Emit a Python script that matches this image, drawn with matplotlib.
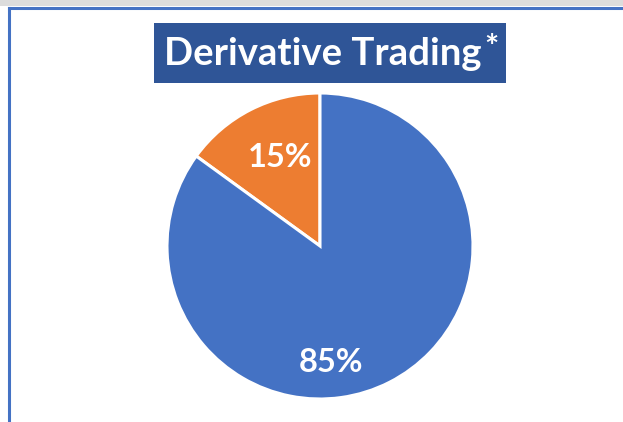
import matplotlib.pyplot as plt
from matplotlib.patches import Rectangle
from matplotlib.lines import Line2D

labels = ['Other', 'Derivative']
shares = [15, 85]
colors = ['#ED7D31', '#4472C4']
title = 'Derivative Trading'

W, H = 623, 422
fig = plt.figure(figsize=(W / 100, H / 100), dpi=100)

# window-like frame: gray strip at the top, blue border lines
fig.patches.append(Rectangle((0, 1 - 6 / H), 1, 6 / H, transform=fig.transFigure,
                             facecolor='#DCDCDC', edgecolor='none'))
fig.lines.append(Line2D([9 / W, 9 / W], [0, 1 - 8 / H], transform=fig.transFigure,
                        color='#4472C4', linewidth=2.2))
fig.lines.append(Line2D([9 / W, 1], [1 - 8 / H, 1 - 8 / H], transform=fig.transFigure,
                        color='#4472C4', linewidth=2.2))

cx, cy, r = 320, 246, 153
ax = fig.add_axes([(cx - r) / W, (H - cy - r) / H, 2 * r / W, 2 * r / H])
wedges, texts, autotexts = ax.pie(shares, colors=colors, startangle=90, counterclock=True,
                                  autopct='%d%%', pctdistance=0.6,
                                  wedgeprops=dict(edgecolor='white', linewidth=2.2),
                                  textprops=dict(color='white', fontsize=23.5,
                                                 fontweight='bold', family='Lato'))
ax.set_xlim(-1, 1)
ax.set_ylim(-1, 1)
autotexts[0].set_position((-0.26, 0.58))
autotexts[1].set_position((0.07, -0.76))

# title box
fig.patches.append(Rectangle((154 / W, 1 - 83 / H), (506 - 154) / W, 60 / H,
                             transform=fig.transFigure, facecolor='#2F5597', edgecolor='none'))
fig.text(164 / W, 1 - 54 / H, title, color='white', fontsize=27.5, fontweight='bold',
         family='Lato', ha='left', va='center')
fig.text(484 / W, 1 - 48 / H, '*', color='white', fontsize=24, fontweight='bold',
         family='Lato', ha='left', va='center')

fig.savefig('out.png', dpi=100)
